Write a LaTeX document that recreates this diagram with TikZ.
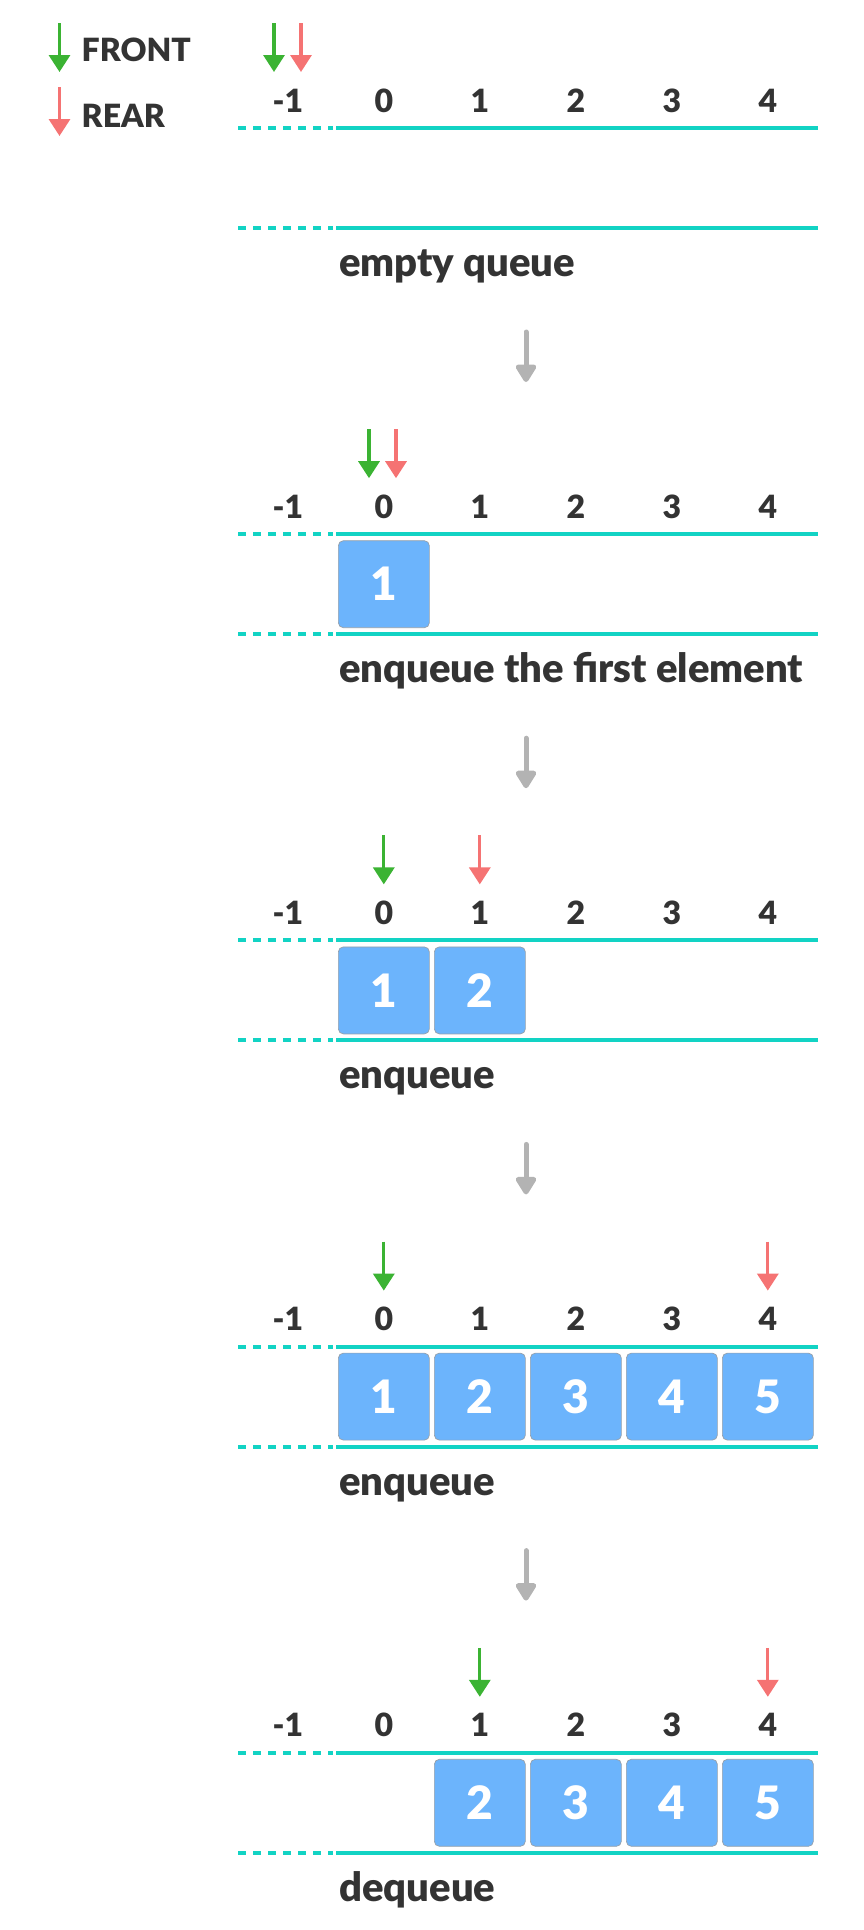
\documentclass[tikz,border=0pt]{standalone}
\usepackage{fontspec}
\setmainfont{Lato}[BoldFont={Lato Black}]
\usetikzlibrary{arrows.meta}
\definecolor{trackcol}{RGB}{18,211,196}
\definecolor{txtcol}{RGB}{51,51,51}
\definecolor{cellfill}{RGB}{108,180,252}
\definecolor{cellborder}{RGB}{150,160,170}
\definecolor{frontcol}{RGB}{59,179,51}
\definecolor{rearcol}{RGB}{245,115,115}
\definecolor{stepcol}{RGB}{179,179,179}
\tikzset{
  idx/.style={font=\fontsize{32}{32}\selectfont\bfseries, text=txtcol, anchor=base, inner sep=0pt},
  capt/.style={font=\fontsize{40}{40}\selectfont\bfseries, text=txtcol, anchor=base west, inner sep=0pt},
  legendtxt/.style={font=\fontsize{32}{32}\selectfont\bfseries, text=txtcol, anchor=base west, inner sep=0pt},
  cell/.style={draw=cellborder, line width=0.7pt, fill=cellfill, rounded corners=5pt,
    minimum width=91pt, minimum height=87pt, inner sep=0pt, text=white,
    font=\fontsize{46}{46}\selectfont\bfseries},
  tracksolid/.style={draw=trackcol, line width=4pt},
  trackdash/.style={draw=trackcol, line width=4pt, dash pattern=on 7.5pt off 7.5pt},
  ptr/.style={line width=3.3pt, -{Triangle[width=21pt,length=17pt]}},
  nextstep/.style={draw=stepcol, line width=5pt, line cap=round, -{Triangle[width=23pt,length=20pt,round]}},
}
\begin{document}
\begin{tikzpicture}[x=1pt,y=-1pt]
\useasboundingbox (0,0) rectangle (864,1930);
% legend
\coordinate (lfa) at (59.5,23); \coordinate (lfb) at (59.5,72);
\draw[ptr, frontcol] (lfa) -- (lfb);
\node[legendtxt] (lfront) at (81.5,61) {FRONT};
\coordinate (lra) at (59.5,87); \coordinate (lrb) at (59.5,136);
\draw[ptr, rearcol] (lra) -- (lrb);
\node[legendtxt] (lrear) at (81.5,127) {REAR};
% sections
\foreach \s/\c in {0/empty queue, 1/enqueue the first element, 2/enqueue, 3/enqueue, 4/dequeue} {
  \pgfmathsetmacro\T{128+406.2*\s}
  \foreach \i [count=\j] in {-1,...,4}
    \node[idx] (idx\s n\j) at ({383.8+96*\i},{\T-16}) {\i};
  \coordinate (ta\s) at (238,\T); \coordinate (tb\s) at (333,\T);
  \coordinate (tc\s) at (336,\T); \coordinate (td\s) at (818,\T);
  \draw[trackdash] (ta\s) -- (tb\s);
  \draw[tracksolid] (tc\s) -- (td\s);
  \coordinate (ba\s) at (238,\T+100); \coordinate (bb\s) at (333,\T+100);
  \coordinate (bc\s) at (336,\T+100); \coordinate (bd\s) at (818,\T+100);
  \draw[trackdash] (ba\s) -- (bb\s);
  \draw[tracksolid] (bc\s) -- (bd\s);
  \node[capt] (cap\s) at (339,{\T+148.5}) {\c};
}
% cells
\foreach \s/\i/\v in {1/0/1, 2/0/1, 2/1/2, 3/0/1, 3/1/2, 3/2/3, 3/3/4, 3/4/5, 4/1/2, 4/2/3, 4/3/4, 4/4/5} {
  \pgfmathsetmacro\T{128+406.2*\s}
  \node[cell] (cell\s n\i) at ({383.85+96*\i},{\T+50}) {\v};
}
% pointers
\foreach \s/\x/\col [count=\k] in {0/274/frontcol, 0/301/rearcol, 1/369/frontcol, 1/396/rearcol,
    2/383.8/frontcol, 2/479.8/rearcol, 3/383.8/frontcol, 3/767.8/rearcol, 4/479.8/frontcol, 4/767.8/rearcol} {
  \pgfmathsetmacro\T{128+406.2*\s}
  \coordinate (pa\k) at (\x,{\T-105});
  \coordinate (pb\k) at (\x,{\T-56});
  \draw[ptr, \col] (pa\k) -- (pb\k);
}
% step arrows
\foreach \s in {0,...,3} {
  \pgfmathsetmacro\T{128+406.2*\s}
  \coordinate (sa\s) at (526,{\T+204});
  \coordinate (sb\s) at (526,{\T+254});
  \draw[nextstep] (sa\s) -- (sb\s);
}
\end{tikzpicture}
\end{document}
